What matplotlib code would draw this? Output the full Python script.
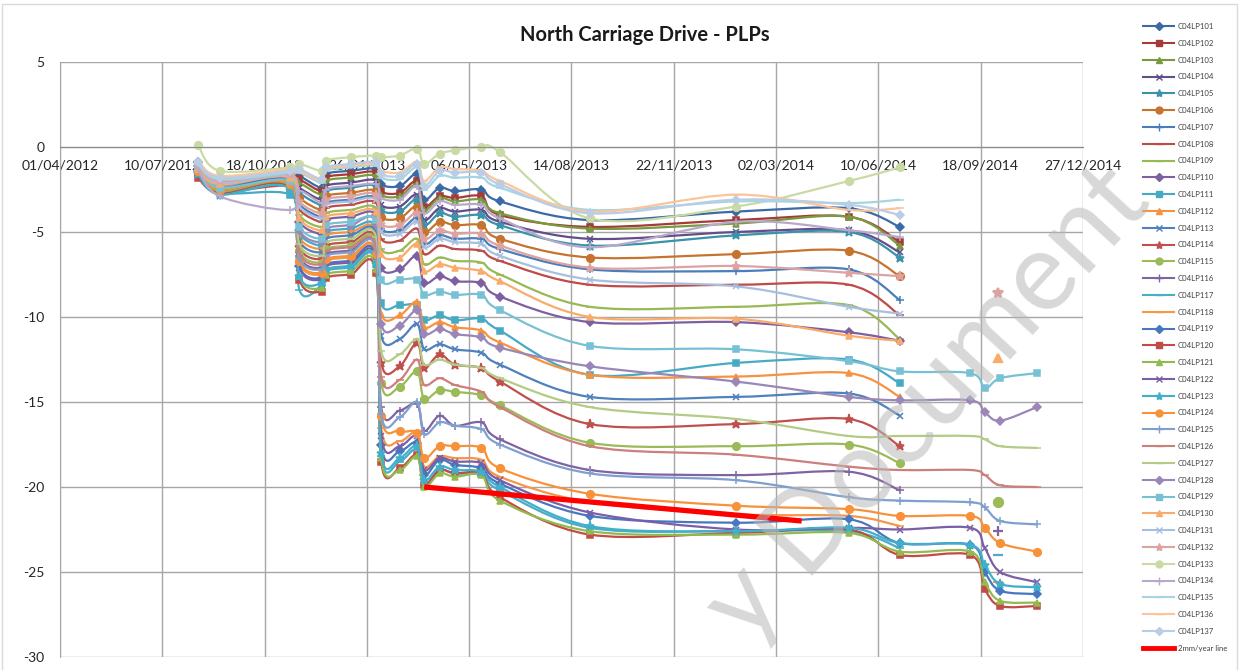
import numpy as np
import pandas as pd
import matplotlib.pyplot as plt
import matplotlib.dates as mdates
from matplotlib.path import Path
from matplotlib.patches import PathPatch, Rectangle
from matplotlib.lines import Line2D
from matplotlib.ticker import FixedLocator

plt.rcParams['font.family'] = ['Lato', 'DejaVu Sans']
plt.rcParams['axes.unicode_minus'] = False

# survey dates shared by all PLPs up to end of June 2014
dates = pd.to_datetime([
    '2012-08-14', '2012-09-04', '2012-11-12', '2012-11-21', '2012-12-13',
    '2012-12-17', '2013-01-10', '2013-02-04', '2013-02-09', '2013-02-27',
    '2013-03-16', '2013-03-23', '2013-04-07', '2013-04-22', '2013-05-18',
    '2013-06-05', '2013-09-01', '2014-01-22', '2014-05-12', '2014-07-01'])
# readings after the summer 2014 break
late_dates = pd.to_datetime(['2014-09-08', '2014-09-22', '2014-10-07', '2014-11-12'])

lp101 = [-0.9, -1.9, -1.5, -1.7, -2.4, -1.6, -1.4, -1.3, -2.2, -2.3, -1.6, -3.1, -2.4, -2.6, -2.5, -3.2, -4.3, -3.8, -3.6, -4.7]
lp102 = [-1.1, -2.0, -1.7, -1.9, -2.6, -1.8, -1.6, -1.5, -2.6, -2.7, -2.0, -3.5, -2.9, -3.0, -2.9, -4.0, -4.7, -4.3, -4.1, -5.6]
lp103 = [-1.0, -2.1, -1.8, -2.1, -2.8, -2.0, -1.8, -1.7, -2.8, -2.9, -2.2, -3.7, -3.0, -3.2, -3.1, -3.9, -4.8, -4.5, -4.1, -5.8]
lp104 = [-1.2, -2.2, -1.9, -2.4, -3.1, -2.3, -2.1, -2.0, -3.4, -3.5, -2.8, -4.3, -3.6, -3.8, -3.7, -4.4, -5.4, -5.0, -4.9, -6.2]
lp105 = [-1.1, -2.3, -2.0, -2.7, -3.4, -2.6, -2.4, -2.3, -3.7, -3.8, -3.1, -4.6, -3.9, -4.1, -4.0, -4.6, -5.8, -5.2, -5.0, -6.5]
lp106 = [-1.4, -2.4, -2.1, -3.0, -3.7, -2.9, -2.7, -2.6, -4.1, -4.2, -3.5, -5.0, -4.4, -4.6, -4.6, -5.4, -6.5, -6.3, -6.1, -7.6]
lp107 = [-1.3, -2.5, -2.2, -3.4, -4.1, -3.3, -3.1, -3.0, -4.8, -4.9, -4.2, -5.7, -5.2, -5.4, -5.4, -6.0, -7.2, -7.3, -7.2, -9.0]
lp108 = [-1.5, -2.6, -2.3, -3.7, -4.4, -3.6, -3.4, -3.3, -5.4, -5.5, -4.8, -6.3, -5.8, -6.0, -6.1, -6.7, -8.1, -8.1, -8.1, -9.9]
lp109 = [-1.2, -2.3, -1.9, -4.0, -4.7, -3.9, -3.7, -3.6, -6.0, -6.1, -5.4, -6.9, -6.5, -6.7, -6.8, -7.5, -9.4, -9.4, -9.3, -11.3]
lp110 = [-1.4, -2.5, -2.1, -4.4, -5.1, -4.3, -4.1, -4.0, -7.1, -7.2, -6.4, -8.0, -7.6, -7.9, -8.0, -8.8, -10.3, -10.3, -10.9, -11.4]
lp111 = [-1.6, -2.7, -2.8, -5.1, -5.8, -5.0, -4.8, -4.7, -9.2, -9.3, -9.3, -10.2, -9.9, -10.2, -10.1, -10.8, -13.4, -12.7, -12.5, -13.9]
lp112 = [-1.5, -2.6, -2.3, -5.3, -6.0, -5.2, -5.0, -4.9, -9.8, -9.9, -9.1, -10.6, -10.3, -10.6, -10.8, -11.5, -13.4, -13.5, -13.3, -14.7]
lp113 = [-1.3, -2.4, -2.0, -5.5, -6.2, -5.4, -5.2, -5.1, -11.1, -11.3, -10.4, -11.9, -11.6, -11.9, -12.1, -12.8, -14.7, -14.7, -14.5, -15.8]
lp114 = [-1.5, -2.5, -2.2, -5.9, -6.6, -5.8, -5.6, -5.5, -12.7, -12.9, -11.5, -13.0, -12.2, -12.8, -13.0, -13.8, -16.3, -16.3, -16.0, -17.6]
lp115 = [-1.4, -2.6, -2.3, -6.1, -6.8, -6.0, -5.8, -5.7, -13.9, -14.1, -13.2, -14.8, -14.3, -14.4, -14.6, -15.2, -17.4, -17.6, -17.5, -18.6]
lp116 = [-1.3, -2.4, -2.0, -6.4, -7.1, -6.3, -6.1, -6.0, -15.3, -15.5, -15.1, -16.7, -15.8, -16.4, -16.2, -17.2, -19.0, -19.3, -19.1, -20.2]
lp117 = [-1.5, -2.7, -2.4, -8.4, -8.1, -7.3, -7.1, -7.0, -18.2, -18.5, -17.8, -19.8, -19.0, -19.2, -19.3, -20.2, -22.4, -22.6, -22.6, -23.6]
lp118 = [-1.5, -2.6, -2.2, -6.8, -7.5, -6.7, -6.5, -6.4, -16.5, -17.3, -16.8, -18.8, -18.2, -18.3, -18.4, -19.4, -20.9, -21.6, -21.7, -22.3]
lp119 = [-1.3, -2.4, -2.1, -7.0, -7.7, -6.9, -6.7, -6.6, -17.5, -17.9, -17.4, -19.3, -18.4, -18.7, -18.9, -19.8, -21.7, -22.1, -21.9, -23.3]
lp120 = [-1.8, -2.7, -2.4, -7.8, -8.5, -7.7, -7.5, -7.4, -18.5, -18.9, -18.1, -19.9, -19.0, -19.2, -19.2, -20.6, -22.8, -22.7, -22.5, -24.0]
lp121 = [-1.4, -2.6, -2.3, -7.6, -8.3, -7.5, -7.3, -7.2, -18.3, -19.0, -18.2, -20.0, -19.2, -19.4, -19.3, -20.8, -22.6, -22.8, -22.7, -23.8]
lp122 = [-1.3, -2.5, -2.2, -7.1, -7.8, -7.0, -6.8, -6.7, -17.0, -17.6, -17.0, -19.0, -18.3, -18.5, -18.6, -19.6, -21.5, -22.5, -22.4, -22.5]
lp123 = [-1.6, -2.8, -2.5, -7.6, -8.0, -7.2, -7.0, -6.9, -18.0, -18.3, -17.6, -19.6, -18.8, -19.0, -19.1, -20.0, -22.3, -22.6, -22.4, -23.3]
lp124 = [-1.4, -2.5, -2.2, -6.7, -7.4, -6.6, -6.4, -6.3, -15.8, -16.7, -16.8, -18.3, -17.6, -17.6, -17.7, -18.9, -20.4, -21.1, -21.3, -21.7]
lp125 = [-1.2, -2.3, -1.9, -6.5, -7.2, -6.4, -6.2, -6.1, -15.7, -15.9, -15.0, -16.9, -16.2, -16.4, -16.6, -17.5, -19.2, -19.6, -20.6, -20.8]
lp126 = [-1.1, -2.1, -1.7, -6.2, -6.9, -6.1, -5.9, -5.8, -13.5, -13.7, -12.5, -14.0, -13.6, -14.0, -14.4, -15.3, -17.6, -18.1, -18.8, -19.0]
lp127 = [-1.2, -2.2, -1.8, -5.7, -6.4, -5.6, -5.4, -5.3, -12.0, -12.2, -11.3, -12.8, -12.5, -12.8, -13.0, -13.6, -15.3, -16.0, -17.0, -17.0]
lp128 = [-1.1, -2.2, -1.8, -4.9, -5.6, -4.8, -4.6, -4.5, -10.4, -10.5, -9.6, -11.0, -10.7, -11.0, -11.2, -11.8, -12.9, -13.8, -14.7, -14.9]
lp129 = [-1.2, -2.4, -2.0, -4.7, -5.4, -4.6, -4.4, -4.3, -7.8, -7.8, -7.8, -8.7, -8.5, -8.7, -8.7, -9.6, -11.7, -11.9, -12.6, -13.2]
lp130 = [-1.3, -2.2, -1.8, -4.2, -4.9, -4.1, -3.9, -3.8, -6.3, -6.5, -5.7, -7.3, -6.9, -7.1, -7.3, -7.9, -10.0, -10.1, -11.1, -11.4]
lp131 = [-1.0, -2.1, -1.7, -3.5, -4.2, -3.4, -3.2, -3.1, -5.0, -5.1, -4.4, -5.9, -5.4, -5.6, -5.7, -6.4, -7.8, -8.2, -9.4, -9.8]
lp132 = [-1.0, -2.0, -1.6, -3.2, -3.9, -3.1, -2.9, -2.8, -4.5, -4.6, -3.9, -5.4, -4.9, -5.1, -5.1, -5.8, -7.1, -7.0, -7.4, -7.6]
lp133 = [0.1, -1.4, -1.2, -1.0, -1.4, -0.8, -0.6, -0.5, -0.6, -0.5, -0.1, -1.0, -0.4, -0.2, 0.0, -0.3, -4.2, -3.5, -2.0, -1.2]
lp134 = [-1.3, -2.9, -3.7, -2.6, -3.3, -2.5, -2.3, -2.2, -3.0, -3.1, -2.3, -3.9, -3.2, -3.4, -3.4, -4.2, -5.9, -4.4, -4.9, -5.3]
lp135 = [-1.0, -1.9, -1.5, -1.5, -2.1, -1.4, -1.2, -1.1, -1.8, -1.9, -1.2, -2.5, -1.7, -1.8, -1.8, -2.4, -3.7, -3.2, -3.3, -3.1]
lp136 = [-0.8, -1.7, -1.3, -1.4, -2.0, -1.3, -1.1, -1.0, -1.4, -1.5, -0.9, -2.0, -1.2, -1.3, -1.4, -2.0, -3.8, -2.8, -3.7, -3.6]
lp137 = [-0.9, -1.8, -1.4, -1.3, -1.9, -1.2, -1.0, -0.9, -1.6, -1.7, -1.0, -2.3, -1.4, -1.5, -1.5, -2.2, -3.9, -3.1, -3.4, -4.0]

# PLPs still monitored in autumn 2014
late119 = [-23.4, -25.0, -26.1, -26.3]
late120 = [-24.0, -26.0, -27.0, -27.0]
late121 = [-23.8, -25.6, -26.7, -26.8]
late122 = [-22.4, -23.6, -25.0, -25.6]
late123 = [-23.4, -24.6, -25.7, -25.9]
late124 = [-21.7, -22.4, -23.3, -23.8]
late125 = [-20.9, -21.2, -22.0, -22.2]
late126 = [-19.0, -19.3, -19.9, -20.0]
late127 = [-17.0, -17.2, -17.6, -17.7]
late128 = [-14.9, -15.6, -16.1, -15.3]
late129 = [-13.3, -14.2, -13.6, -13.3]

# one-off readings, October 2014
single_ids = [115, 116, 117, 118, 130, 132]
single_vals = [-20.9, -22.6, -24.0, -25.6, -12.4, -8.6]
single_date = pd.Timestamp('2014-10-05')

trend_dates = pd.to_datetime(['2013-03-23', '2014-03-27'])
trend_vals = [-20.0, -22.0]

main = [lp101, lp102, lp103, lp104, lp105, lp106, lp107, lp108, lp109, lp110,
        lp111, lp112, lp113, lp114, lp115, lp116, lp117, lp118, lp119, lp120,
        lp121, lp122, lp123, lp124, lp125, lp126, lp127, lp128, lp129, lp130,
        lp131, lp132, lp133, lp134, lp135, lp136, lp137]
late = {119: late119, 120: late120, 121: late121, 122: late122, 123: late123,
        124: late124, 125: late125, 126: late126, 127: late127, 128: late128,
        129: late129}

colors = ['#3C6AA6', '#A33B38', '#7A9A3F', '#634D8A', '#3A93AA', '#C6732E',
          '#4A7EBB', '#BE4B48', '#98B954', '#7D60A0', '#46AAC5', '#F69240',
          '#4F81BD', '#C0504D', '#9BBB59', '#8064A2', '#4BACC6', '#F79646',
          '#4677BF', '#C24A47', '#92BA4E', '#7A5EA6', '#41AFCB', '#F7923A',
          '#7F9FCF', '#CD7F7D', '#B3CB85', '#9A86B7', '#78C0D4', '#F9AB6B',
          '#A7BFDE', '#DDA3A2', '#C9DAA4', '#B8A9CC', '#A5D5E2', '#FBC49A',
          '#B9CDE5']
markers = ['D', 's', '^', 'x', '*', 'o', '+', '_', '_']
msizes = {'D': 4.5, 's': 5, '^': 5, 'x': 5, '*': 6.5, 'o': 5.5, '+': 6, '_': 6}


def smooth_path(x, y):
    # Excel-style smoothed line: cubic bezier through every point
    pts = np.column_stack([x, y])
    n = len(pts)
    verts = [pts[0]]
    codes = [Path.MOVETO]
    for i in range(n - 1):
        p0 = pts[max(i - 1, 0)]
        p1 = pts[i]
        p2 = pts[i + 1]
        p3 = pts[min(i + 2, n - 1)]
        verts += [p1 + (p2 - p0) / 6.0, p2 - (p3 - p1) / 6.0, p2]
        codes += [Path.CURVE4] * 3
    return Path(verts, codes)


fig = plt.figure(figsize=(12.39, 6.70), dpi=100)
ax = fig.add_axes([60 / 1239, 13 / 670, 1023 / 1239, 595 / 670])

xmain = mdates.date2num(dates)
xlate = mdates.date2num(late_dates)
handles = []
for k, vals in enumerate(main):
    num = 101 + k
    c = colors[k]
    m = markers[k % 9]
    x = list(xmain)
    y = list(vals)
    if num in late:
        x += list(xlate)
        y += late[num]
    ax.add_patch(PathPatch(smooth_path(np.array(x), np.array(y)), fill=False,
                           edgecolor=c, lw=1.6, zorder=2 + k * 0.01))
    ax.plot(x, y, linestyle='none', marker=m, ms=msizes[m], color=c,
            mec=c, mew=1.1, zorder=2 + k * 0.01)
    if num in single_ids:
        ax.plot([single_date], [single_vals[single_ids.index(num)]],
                linestyle='none', marker=m, ms=msizes[m] + 1, color=c, mec=c, mew=1.6)
    handles.append(Line2D([], [], color=c, lw=1.5, marker=m, ms=msizes[m] - 0.5,
                          mew=1.0, label='C04LP%d' % num))

ax.plot(trend_dates, trend_vals, color='#FF0000', lw=3.8, solid_capstyle='butt', zorder=5)
handles.append(Line2D([], [], color='#FF0000', lw=3.5, label='2mm/year line'))

ax.set_xlim(pd.Timestamp('2012-04-01'), pd.Timestamp('2014-12-27'))
ax.set_ylim(-30, 5)
xt = pd.date_range('2012-04-01', periods=11, freq='100D')
ax.xaxis.set_major_locator(FixedLocator(mdates.date2num(xt)))
ax.xaxis.set_major_formatter(mdates.DateFormatter('%d/%m/%Y'))
ax.set_yticks(range(-30, 6, 5))
ax.grid(True, color='#a6a6a6', lw=1.0, zorder=0)
ax.set_axisbelow(True)
ax.spines['bottom'].set_position(('data', 0))
ax.spines['bottom'].set_color('#8c8c8c')
ax.spines['left'].set_color('#a6a6a6')
ax.spines['top'].set_visible(False)
ax.spines['right'].set_visible(False)
ax.tick_params(axis='x', length=0, pad=9, labelsize=10, labelcolor='#262626')
ax.tick_params(axis='y', length=0, pad=11, labelsize=10, labelcolor='#262626')

fig.text(645 / 1239, 1 - 35 / 670, 'North Carriage Drive - PLPs', ha='center', va='center',
         fontsize=14.5, fontweight='bold', color='#1a1a1a')

fig.legend(handles=handles, loc='upper left', bbox_to_anchor=(1143 / 1239, 1 - 23 / 670),
           frameon=False, fontsize=5.6, handlelength=4.0, handletextpad=0.5,
           labelspacing=1.26, borderaxespad=0, borderpad=0, labelcolor='#404040')

fig.patches.append(Rectangle((2 / 1239, -0.1), 1235 / 1239, 1.1 - 4 / 670, transform=fig.transFigure,
                             fill=False, edgecolor='#d9d9d9', lw=1.0))

fig.text(928 / 1239, 1 - 404 / 670, 'y Document', rotation=47.5, rotation_mode='anchor',
         ha='center', va='center', fontsize=80, color='#b8b8b8', alpha=0.55, zorder=10)

fig.savefig('out.png', dpi=100)
